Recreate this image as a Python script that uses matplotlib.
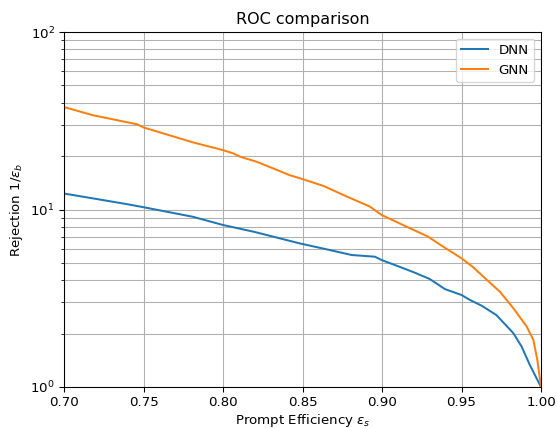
import numpy as np
import matplotlib.pyplot as plt

# values
eff_dnn = [0.70, 0.718, 0.739, 0.75, 0.781, 0.80, 0.82, 0.848, 0.865, 0.881, 0.8956,
           0.8998, 0.908, 0.920, 0.930, 0.9396, 0.95, 0.9554, 0.9627, 0.972, 0.9826,
           0.9878, 0.993, 1.0]
rej_dnn = [12.3, 11.56, 10.74, 10.3, 9.1, 8.18, 7.47, 6.45, 5.97, 5.54, 5.42,
           5.19, 4.87, 4.43, 4.06, 3.56, 3.3, 3.09, 2.87, 2.54, 2.01,
           1.69, 1.33, 1.0]

eff_gnn = [0.70, 0.718, 0.746, 0.75, 0.781, 0.80, 0.8065, 0.811, 0.821, 0.834, 0.842,
           0.8484, 0.863, 0.8757, 0.8925, 0.8998, 0.9155, 0.929, 0.9385, 0.95, 0.957,
           0.9648, 0.9742, 0.9826, 0.991, 0.9952, 0.9977, 1.0]
rej_gnn = [37.8, 34.0, 30.2, 29.0, 23.9, 21.6, 20.7, 19.8, 18.6, 16.7, 15.6,
           15.0, 13.6, 12.07, 10.37, 9.31, 8.0, 7.03, 6.17, 5.31, 4.76,
           4.1, 3.44, 2.78, 2.19, 1.84, 1.42, 1.0]

dpi = 96
fig = plt.figure(figsize=(557/dpi, 428/dpi), dpi=dpi)
ax = fig.add_axes([64/557, 1 - 387/428, (541-64)/557, (387-32)/428])

ax.plot(eff_dnn, rej_dnn, label='DNN')
ax.plot(eff_gnn, rej_gnn, label='GNN')
ax.set_yscale('log')
ax.set_xlim(0.7, 1.0)
ax.set_ylim(1, 100)
ax.grid(True, which='both')
ax.set_title('ROC comparison')
ax.set_xlabel(r'Prompt Efficiency $\epsilon_s$', labelpad=2)
ax.set_ylabel(r'Rejection $1/\epsilon_b$')
ax.legend(loc='upper right')

fig.savefig('out.png', dpi=dpi)
